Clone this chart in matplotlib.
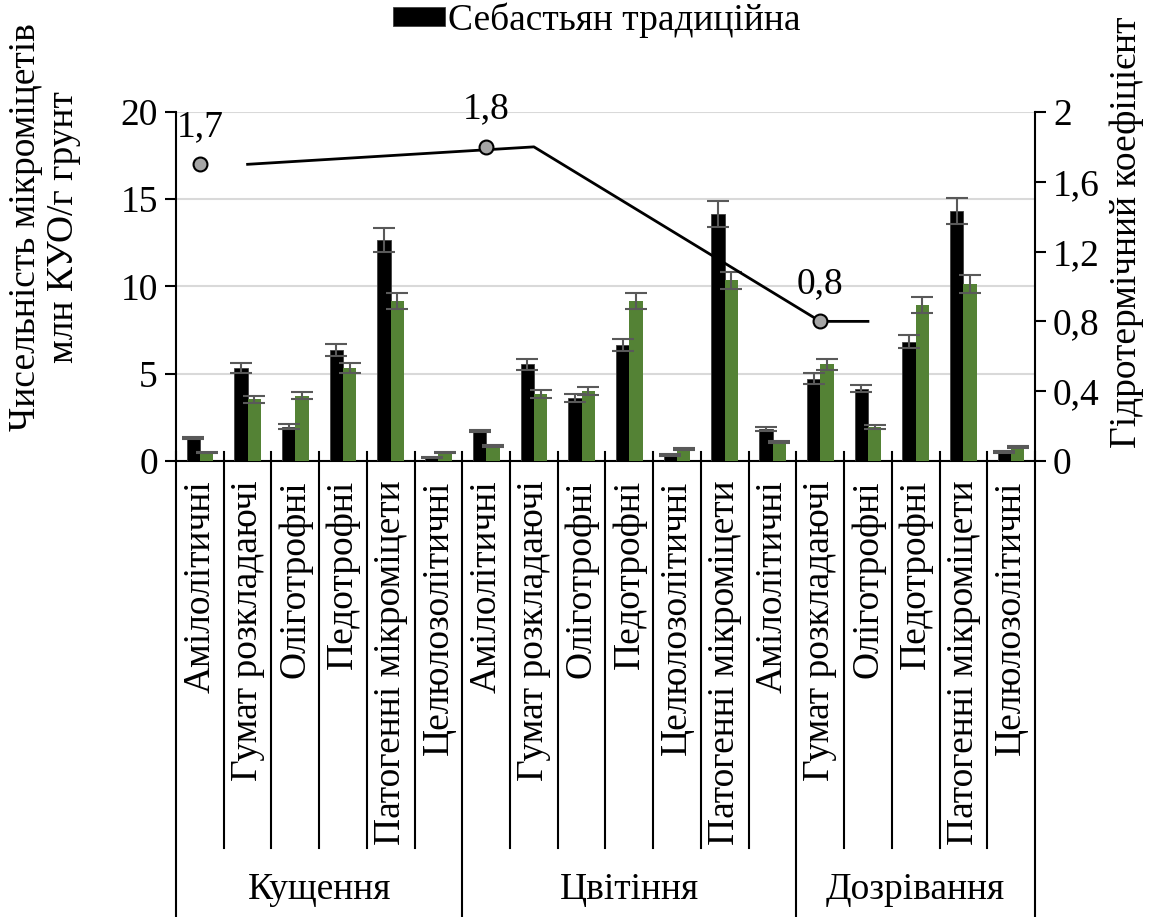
import numpy as np
import matplotlib
matplotlib.use("Agg")
from matplotlib import pyplot as plt
import matplotlib.transforms as mtransforms

plt.rcParams['font.family'] = ['Liberation Serif', 'DejaVu Serif']

# categories along the x axis (three growth phases)
categories = ['Амілолітичні', 'Гумат розкладаючі', 'Оліготрофні', 'Педотрофні',
              'Патогенні мікроміцети', 'Целюлозолітичні',
              'Амілолітичні', 'Гумат розкладаючі', 'Оліготрофні', 'Педотрофні',
              'Целюлозолітичні', 'Патогенні мікроміцети',
              'Амілолітичні', 'Гумат розкладаючі', 'Оліготрофні', 'Педотрофні',
              'Патогенні мікроміцети', 'Целюлозолітичні']
phases = ['Кущення', 'Цвітіння', 'Дозрівання']
phase_bounds = [(0, 6), (6, 13), (13, 18)]

# millions CFU per g of soil
black_vals = [1.3, 5.35, 1.97, 6.36, 12.66, 0.21,
              1.72, 5.54, 3.59, 6.65, 0.34, 14.15,
              1.82, 4.72, 4.14, 6.84, 14.34, 0.53]
black_err = [0.05, 0.28, 0.13, 0.33, 0.67, 0.03,
             0.06, 0.32, 0.23, 0.34, 0.04, 0.72,
             0.13, 0.30, 0.21, 0.38, 0.74, 0.05]
green_vals = [0.5, 3.55, 3.74, 5.35, 9.17, 0.5,
              0.86, 3.84, 4.03, 9.17, 0.67, 10.35,
              1.07, 5.54, 1.95, 8.96, 10.14, 0.78]
green_err = [0.03, 0.20, 0.20, 0.28, 0.47, 0.04,
             0.05, 0.23, 0.23, 0.48, 0.05, 0.50,
             0.06, 0.30, 0.11, 0.46, 0.53, 0.05]

# hydrothermal coefficient
htc_line_x = [1, 7, 13, 14]
htc_line_y = [1.7, 1.8, 0.8, 0.8]
htc_pts_x = [0, 6, 13]
htc_pts_y = [1.7, 1.8, 0.8]
htc_labels = ['1,7', '1,8', '0,8']

FS = 27
fig = plt.figure(figsize=(11.52, 9.17), dpi=100)
ax = fig.add_axes([0.1528, 0.4973, 0.7456, 0.3806])

x = np.arange(len(categories))
w = 0.28
ekw = dict(ecolor='#595959', elinewidth=1.5, capsize=8, capthick=1.5)
ax.bar(x - w / 2, black_vals, w, color='black', edgecolor='#404040', linewidth=0.6,
       yerr=black_err, error_kw=ekw, label='Себастьян традиційна', zorder=3)
ax.bar(x + w / 2, green_vals, w, color='#548235', linewidth=0,
       yerr=green_err, error_kw=ekw, zorder=3)

ax.set_xlim(-0.5, len(categories) - 0.5)
ax.set_ylim(0, 20)
ax.set_yticks([0, 5, 10, 15, 20])
ax.yaxis.grid(True, color='#d9d9d9', linewidth=1.5, zorder=0)
ax.set_axisbelow(True)
ax.tick_params(axis='y', labelsize=FS, length=8, width=1.5, direction='out', pad=5)
ax.set_xticks([])
for s in ['top', 'right']:
    ax.spines[s].set_visible(False)
ax.spines['left'].set_linewidth(1.5)
ax.spines['bottom'].set_linewidth(1.5)

# multi-level category axis
trans = mtransforms.blended_transform_factory(ax.transData, ax.transAxes)
group_edges = [b[0] for b in phase_bounds] + [len(categories)]
for i in range(len(categories) + 1):
    bottom = -1.307 if i in group_edges else -1.109
    ax.plot([i - 0.5, i - 0.5], [0.026, bottom], color='black', lw=1.5,
            transform=trans, clip_on=False, zorder=4)
for i, lab in enumerate(categories):
    ax.text(i, -0.055, lab, rotation=90, ha='center', va='top', fontsize=FS,
            transform=trans)
for name, (a, b) in zip(phases, phase_bounds):
    ax.text((a + b - 1) / 2, -1.228, name, ha='center', va='center', fontsize=FS,
            transform=trans)

ax2 = ax.twinx()
ax2.set_ylim(0, 2)
ax2.set_yticks([0, 0.4, 0.8, 1.2, 1.6, 2])
ax2.set_yticklabels(['0', '0,4', '0,8', '1,2', '1,6', '2'])
ax2.tick_params(axis='y', labelsize=FS, length=8, width=1.5, direction='out', pad=5)
for s in ['top', 'left', 'bottom']:
    ax2.spines[s].set_visible(False)
ax2.spines['right'].set_linewidth(1.5)

ax2.plot(htc_line_x, htc_line_y, color='black', lw=2, zorder=5)
ax2.plot(htc_pts_x, htc_pts_y, 'o', color='#a6a6a6', markeredgecolor='black',
         markeredgewidth=1.5, markersize=10, zorder=6)
for px, py, t in zip(htc_pts_x, htc_pts_y, htc_labels):
    ax2.annotate(t, (px, py), xytext=(0, 27), textcoords='offset points',
                 ha='center', va='center', fontsize=FS)

fig.text(0.039, 0.752, 'Чисельність мікроміцетів\nмлн КУО/г грунт', rotation=90,
         ha='center', va='center', fontsize=FS, multialignment='center',
         linespacing=1.12)
fig.text(0.978, 0.747, 'Гідротермічний коефіцієнт', rotation=90,
         ha='center', va='center', fontsize=FS)

fig.legend(loc='center left', bbox_to_anchor=(0.341, 0.978), frameon=False,
           fontsize=FS, handlelength=1.39, handleheight=0.4, handletextpad=0.08,
           borderpad=0, borderaxespad=0)

fig.savefig('out.png', dpi=100)
